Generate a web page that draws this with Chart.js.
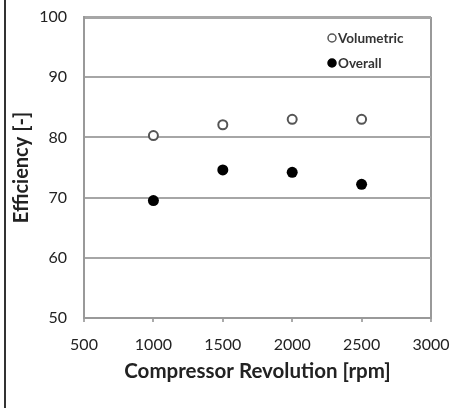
<!DOCTYPE html>
<html>
<head>
<meta charset="utf-8">
<script src="https://cdn.jsdelivr.net/npm/chart.js@4/dist/chart.umd.min.js"></script>
<style>
  html, body { margin: 0; padding: 0; background: #fff; }
  #wrap { position: relative; width: 452px; height: 408px; }
  #frame { position: absolute; left: 4px; top: 0; width: 2px; height: 408px; background: #333; }
</style>
</head>
<body>
<div id="wrap">
  <canvas id="grafico" width="452" height="408"></canvas>
  <div id="frame"></div>
</div>
<script>
// Rotação do compressor [rpm]
const rotacao = [1000, 1500, 2000, 2500];
// Eficiências medidas [%]
const volumetrica = [80.3, 82.1, 83.0, 83.0];
const global = [69.5, 74.6, 74.2, 72.2];
const nomesSeries = ['Volumetric', 'Overall'];

const fonte = "Lato, 'Open Sans', sans-serif";

// Legenda desenhada dentro da área do gráfico (canto superior direito)
const legendaInterna = {
  id: 'legendaInterna',
  afterDraw(chart) {
    const { ctx, chartArea } = chart;
    ctx.save();
    ctx.font = "bold 13.5px " + fonte;
    ctx.textBaseline = 'middle';
    chart.data.datasets.forEach((ds, i) => {
      const x = chartArea.right - 99;
      const y = chartArea.top + 21 + i * 25;
      ctx.beginPath();
      ctx.arc(x, y, 4, 0, Math.PI * 2);
      ctx.fillStyle = ds.pointBackgroundColor;
      ctx.fill();
      ctx.lineWidth = 1.5;
      ctx.strokeStyle = ds.pointBorderColor;
      ctx.stroke();
      ctx.fillStyle = '#333';
      ctx.fillText(ds.label, x + 6, y + 1);
    });
    ctx.restore();
  }
};

const ctx = document.getElementById('grafico').getContext('2d');
new Chart(ctx, {
  type: 'scatter',
  data: {
    datasets: [{
      label: nomesSeries[0],
      data: rotacao.map((r, i) => ({ x: r, y: volumetrica[i] })),
      pointRadius: 4.5,
      pointBorderWidth: 2,
      pointBackgroundColor: '#fff',
      pointBorderColor: '#555'
    }, {
      label: nomesSeries[1],
      data: rotacao.map((r, i) => ({ x: r, y: global[i] })),
      pointRadius: 5.5,
      pointBorderWidth: 0,
      pointBackgroundColor: '#000',
      pointBorderColor: '#000'
    }]
  },
  options: {
    responsive: false,
    animation: false,
    layout: { padding: { top: 17, right: 21, left: 0, bottom: 0 } },
    plugins: {
      legend: { display: false },
      tooltip: { enabled: false }
    },
    scales: {
      x: {
        type: 'linear',
        min: 500,
        max: 3000,
        afterFit: (s) => { s.height = 90; s.paddingLeft = 0; s.paddingRight = 0; },
        ticks: {
          stepSize: 500,
          color: '#222',
          padding: 13,
          font: { family: fonte, size: 16 },
          callback: (v) => String(v)
        },
        grid: {
          color: (c) => (c.tick && c.tick.value === 3000 ? '#999' : 'rgba(0,0,0,0)'),
          lineWidth: 2,
          drawTicks: true,
          tickLength: 4,
          tickColor: '#aaa'
        },
        border: { color: '#999', width: 2 },
        title: {
          display: true,
          text: 'Compressor Revolution [rpm]',
          color: '#222',
          padding: { top: 0, bottom: 24 },
          font: { family: fonte, size: 20.5, weight: 'bold' }
        }
      },
      y: {
        min: 50,
        max: 100,
        afterFit: (s) => { s.width = 84; s.paddingTop = 0; s.paddingBottom = 0; },
        ticks: { stepSize: 10, color: '#222', padding: 17, font: { family: fonte, size: 16 } },
        grid: {
          color: '#a6a6a6',
          lineWidth: (c) => (c.tick && c.tick.value === 100 ? 3 : 2),
          drawTicks: false
        },
        border: { color: '#999', width: 2 },
        title: {
          display: true,
          text: 'Efficiency [-]',
          color: '#222',
          padding: { top: 10, bottom: 0 },
          font: { family: fonte, size: 20, weight: 'bold' }
        }
      }
    }
  },
  plugins: [legendaInterna]
});
</script>
</body>
</html>
